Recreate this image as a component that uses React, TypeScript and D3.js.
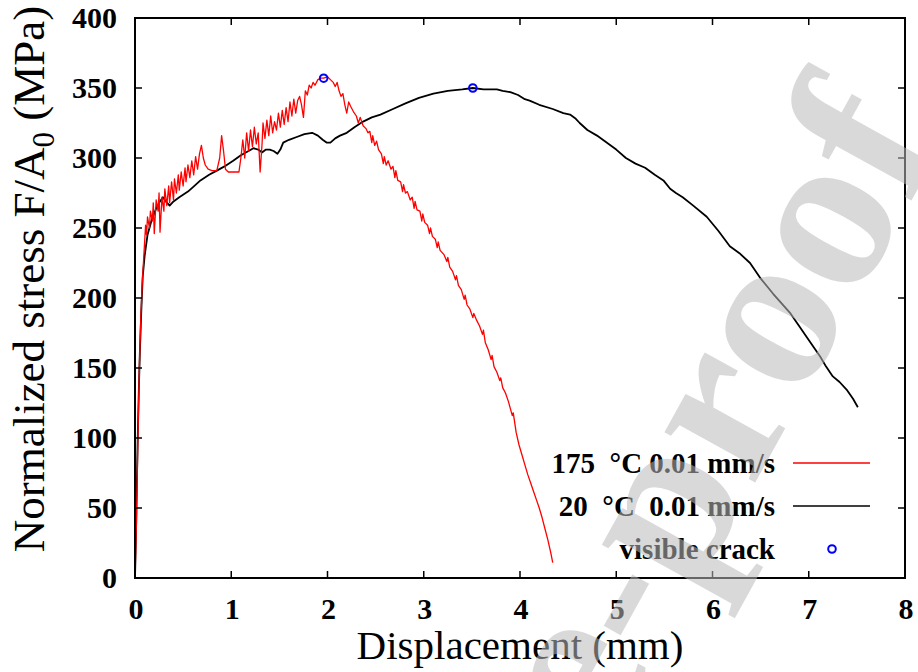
import React from "react";
import * as d3 from "d3";

const W = 918;
const H = 672;

const xTicks = [0, 1, 2, 3, 4, 5, 6, 7, 8];
const yTicks = [0, 50, 100, 150, 200, 250, 300, 350, 400];

const legendLabels = ["175  \u00b0C 0.01 mm/s", "20  \u00b0C  0.01 mm/s", "visible crack"];

// 175 °C, 0.01 mm/s  [displacement mm, stress MPa]
const series175: [number, number][] = [
  [0, 0], [0.015, 40], [0.03, 100], [0.045, 150], [0.06, 185], [0.075, 210], [0.09, 228], [0.1, 240],
  [0.11, 252], [0.12, 245], [0.13, 258], [0.15, 250], [0.16, 262], [0.18, 255], [0.19, 268], [0.2, 246],
  [0.22, 270], [0.24, 262], [0.25, 275], [0.26, 247], [0.28, 272], [0.3, 262], [0.31, 278], [0.33, 266],
  [0.35, 280], [0.36, 268], [0.38, 283], [0.4, 270], [0.41, 285], [0.43, 275], [0.45, 288], [0.46, 277],
  [0.48, 290], [0.5, 280], [0.52, 293], [0.53, 283], [0.55, 295], [0.57, 286], [0.59, 298], [0.61, 288],
  [0.63, 301], [0.65, 292], [0.67, 303], [0.69, 309], [0.71, 300], [0.73, 295], [0.76, 292], [0.8, 291],
  [0.85, 291], [0.88, 300], [0.9, 316], [0.92, 305], [0.94, 292], [0.97, 290], [1.02, 290], [1.08, 290],
  [1.1, 300], [1.12, 313], [1.14, 300], [1.16, 318], [1.18, 305], [1.2, 320], [1.22, 308], [1.24, 322],
  [1.26, 310], [1.28, 318], [1.3, 290], [1.32, 310], [1.33, 325], [1.35, 314], [1.37, 327], [1.39, 316],
  [1.41, 330], [1.43, 318], [1.45, 326], [1.47, 320], [1.49, 332], [1.51, 322], [1.53, 334], [1.55, 324],
  [1.57, 336], [1.59, 326], [1.61, 340], [1.63, 330], [1.65, 342], [1.67, 332], [1.69, 341], [1.71, 344],
  [1.73, 338], [1.75, 329], [1.77, 348], [1.79, 345], [1.81, 352], [1.83, 350], [1.85, 354], [1.87, 352],
  [1.9, 356], [1.93, 357], [1.96, 357], [2.0, 358], [2.03, 356], [2.06, 354], [2.08, 351], [2.1, 354],
  [2.12, 348], [2.14, 344], [2.16, 346], [2.18, 338], [2.2, 332], [2.22, 340], [2.24, 337], [2.27, 333],
  [2.3, 330], [2.32, 325], [2.34, 329], [2.37, 323], [2.4, 321], [2.42, 318], [2.44, 319], [2.46, 311],
  [2.47, 316], [2.49, 309], [2.51, 312], [2.53, 306], [2.56, 303], [2.58, 296], [2.59, 301], [2.61, 295],
  [2.63, 298], [2.66, 292], [2.68, 294], [2.7, 286], [2.71, 291], [2.73, 284], [2.76, 283], [2.78, 276],
  [2.79, 281], [2.81, 275], [2.83, 276], [2.86, 270], [2.88, 272], [2.9, 264], [2.91, 269], [2.93, 263],
  [2.96, 262], [2.98, 255], [2.99, 260], [3.01, 254], [3.04, 252], [3.06, 246], [3.07, 250], [3.09, 244],
  [3.12, 242], [3.14, 236], [3.15, 240], [3.17, 234], [3.21, 231], [3.24, 226], [3.25, 229], [3.27, 222],
  [3.3, 219], [3.33, 213], [3.34, 216], [3.36, 209], [3.39, 206], [3.42, 199], [3.43, 202], [3.45, 195],
  [3.48, 192], [3.51, 186], [3.52, 189], [3.55, 184], [3.58, 180], [3.61, 174], [3.62, 177], [3.64, 168],
  [3.67, 163], [3.7, 156], [3.71, 159], [3.73, 151], [3.76, 147], [3.79, 141], [3.8, 143], [3.82, 136],
  [3.85, 132], [3.88, 126], [3.9, 121], [3.92, 116], [3.93, 118], [3.96, 104], [3.99, 95], [4.02, 88],
  [4.05, 81], [4.08, 74], [4.11, 68], [4.14, 62], [4.17, 56], [4.2, 50], [4.23, 43], [4.26, 35],
  [4.29, 27], [4.32, 18], [4.34, 11],
];

// 20 °C, 0.01 mm/s
const series20: [number, number][] = [
  [0, 0], [0.01, 30], [0.02, 70], [0.03, 105], [0.04, 135], [0.05, 160], [0.065, 190], [0.08, 215],
  [0.1, 230], [0.13, 245], [0.17, 255], [0.22, 264], [0.26, 269], [0.29, 272], [0.32, 269], [0.36, 266],
  [0.4, 269], [0.46, 272], [0.55, 276], [0.6, 279], [0.68, 284], [0.77, 288], [0.85, 291], [0.93, 294],
  [1.02, 298], [1.1, 302], [1.18, 305], [1.23, 307], [1.28, 306], [1.32, 304], [1.36, 306], [1.4, 306],
  [1.44, 305], [1.48, 303], [1.51, 306], [1.54, 311], [1.6, 313], [1.68, 315], [1.76, 317], [1.84, 318],
  [1.9, 316], [1.95, 313], [1.99, 311], [2.03, 311], [2.08, 314], [2.13, 316], [2.2, 318], [2.28, 322],
  [2.37, 326], [2.46, 329], [2.55, 331], [2.68, 335], [2.81, 339], [2.95, 343], [3.1, 346], [3.25, 348],
  [3.4, 349], [3.51, 350], [3.62, 349], [3.7, 349], [3.76, 349], [3.82, 348], [3.9, 347], [3.98, 345],
  [4.05, 342], [4.1, 341], [4.2, 338], [4.34, 335], [4.45, 332], [4.52, 331], [4.58, 328], [4.62, 325],
  [4.7, 320], [4.8, 316], [4.9, 311], [5.0, 306], [5.1, 300], [5.2, 296], [5.3, 293], [5.4, 288],
  [5.49, 284], [5.56, 278], [5.62, 275], [5.69, 272], [5.8, 266], [5.94, 258], [6.06, 248], [6.18, 237],
  [6.28, 232], [6.39, 225], [6.5, 214], [6.63, 203], [6.72, 196], [6.81, 189], [6.9, 180], [6.98, 172],
  [7.05, 165], [7.12, 158], [7.18, 151], [7.25, 144], [7.32, 140], [7.4, 134], [7.46, 128], [7.51, 122],
];

// visible crack markers
const cracks: [number, number][] = [
  [1.96, 357],
  [3.51, 350],
];

const PL = 135, PR = 905, PT = 18, PB = 578;

export default function App() {
  const x = d3.scaleLinear().domain([0, 8]).range([PL, PR]);
  const y = d3.scaleLinear().domain([0, 400]).range([PB, PT]);
  const line = d3.line<[number, number]>().x((d) => x(d[0])).y((d) => y(d[1]));
  const serif = "'Liberation Serif', 'Times New Roman', serif";
  const tickLen = 7;
  const legY = [463, 506, 549];

  return (
    <svg width={W} height={H} style={{ position: "absolute", left: 0, top: 0, background: "#fff" }}>
      <rect x={0} y={0} width={W} height={H} fill="#fff" />
      {/* data */}
      <path d={line(series20) || ""} fill="none" stroke="#000" strokeWidth={1.8} strokeLinejoin="round" />
      <path d={line(series175) || ""} fill="none" stroke="#ff0000" strokeWidth={1.3} strokeLinejoin="round" />
      {cracks.map((c, i) => (
        <circle key={i} cx={x(c[0])} cy={y(c[1])} r={3.8} fill="none" stroke="#0000ff" strokeWidth={2} />
      ))}
      {/* frame */}
      <rect x={PL} y={PT} width={PR - PL} height={PB - PT} fill="none" stroke="#000" strokeWidth={2} />
      {xTicks.map((t) => (
        <g key={"x" + t}>
          <line x1={x(t)} x2={x(t)} y1={PB} y2={PB - tickLen} stroke="#000" strokeWidth={1.5} />
          <line x1={x(t)} x2={x(t)} y1={PT} y2={PT + tickLen} stroke="#000" strokeWidth={1.5} />
          <text x={x(t) + 1} y={619} textAnchor="middle" fontFamily={serif} fontWeight="bold" fontSize={30}>
            {t}
          </text>
        </g>
      ))}
      {yTicks.map((t) => (
        <g key={"y" + t}>
          <line x1={PL} x2={PL + tickLen} y1={y(t)} y2={y(t)} stroke="#000" strokeWidth={1.5} />
          <line x1={PR} x2={PR - tickLen} y1={y(t)} y2={y(t)} stroke="#000" strokeWidth={1.5} />
          <text x={117} y={y(t) + 10} textAnchor="end" fontFamily={serif} fontWeight="bold" fontSize={30}>
            {t}
          </text>
        </g>
      ))}
      {/* axis titles */}
      <text x={(PL + PR) / 2} y={659} textAnchor="middle" fontFamily={serif} fontSize={41}>
        Displacement (mm)
      </text>
      <text
        transform={`translate(44, 279) rotate(-90)`}
        textAnchor="middle"
        fontFamily={serif}
        fontSize={45}
      >
        Normalized stress F/A<tspan fontSize={31} dy={10}>0</tspan>
        <tspan dy={-10}> (MPa)</tspan>
      </text>
      {/* legend */}
      {legendLabels.map((l, i) => (
        <text
          key={"l" + i}
          x={775}
          y={legY[i] + 10}
          textAnchor="end"
          fontFamily={serif}
          fontWeight="bold"
          fontSize={29}
          style={{ whiteSpace: "pre" }}
        >
          {l}
        </text>
      ))}
      <line x1={793} x2={870} y1={legY[0]} y2={legY[0]} stroke="#ff0000" strokeWidth={1.3} />
      <line x1={793} x2={870} y1={legY[1]} y2={legY[1]} stroke="#000" strokeWidth={1.3} />
      <circle cx={832} cy={legY[2]} r={3.8} fill="none" stroke="#0000ff" strokeWidth={2} />
      {/* watermark */}
      <text
        transform="translate(945, 140) rotate(-61)"
        textAnchor="end"
        fontFamily={serif}
        fontWeight="bold"
        fontSize={226}
        fill="rgb(186,186,186)"
        fillOpacity={0.55}
      >
        Journal Pre-proof
      </text>
    </svg>
  );
}
